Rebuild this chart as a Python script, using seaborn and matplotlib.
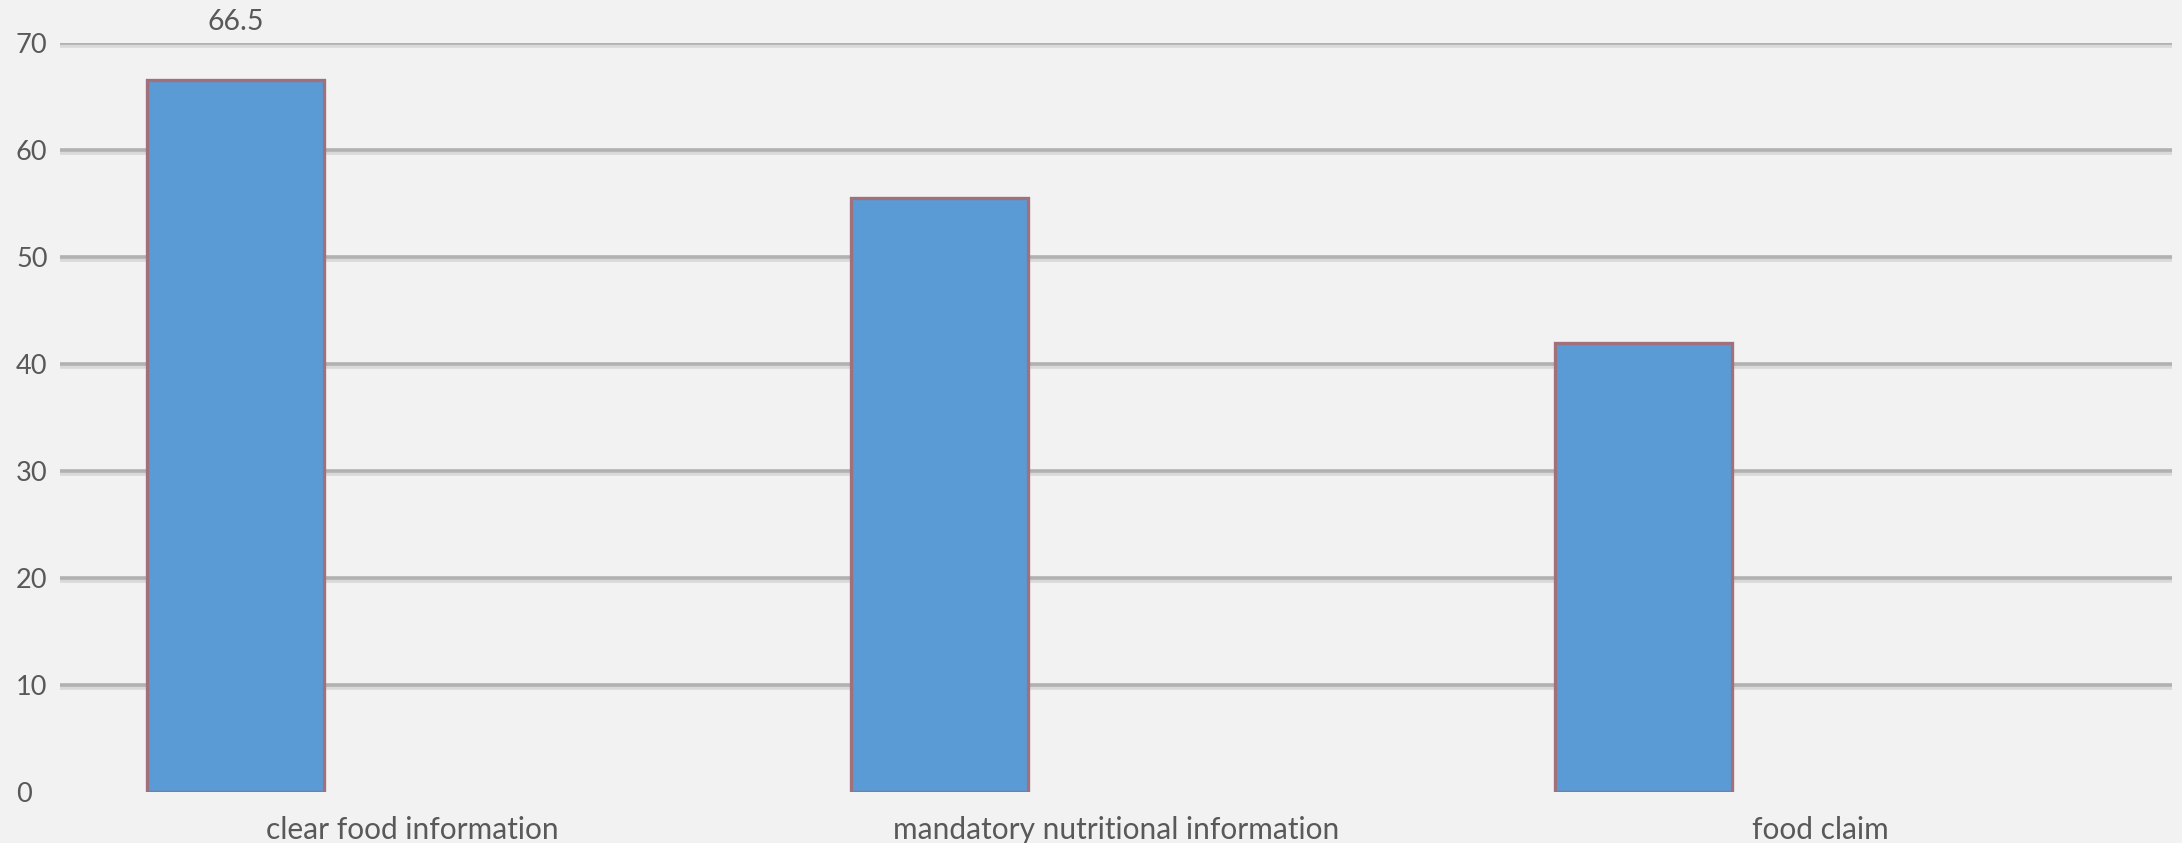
import matplotlib
matplotlib.use("Agg")
import matplotlib.pyplot as plt
import matplotlib.patheffects as pe
import pandas as pd
import seaborn as sns

# Survey results by label element
categories = ["clear food information", "mandatory nutritional information", "food claim"]
values = [66.5, 55.5, 42.0]
series_levels = ["Series1", "Series2", "Series3"]  # only the first series carries values
labelled_value = "66.5"

y_ticks = [0, 10, 20, 30, 40, 50, 60, 70]

BG = "#F2F2F2"
BAR = "#5B9BD5"
EDGE = "#A0707D"
GRID = "#B1B1B1"
TEXT = "#595959"

sns.set_theme(style="white")
plt.rcParams["font.family"] = ["Lato", "DejaVu Sans"]

df = pd.DataFrame({
    "category": categories,
    "value": values,
    "series": [series_levels[0]] * len(categories),
})

fig = plt.figure(figsize=(21.82, 8.43), dpi=100, facecolor=BG)
ax = fig.add_axes([60 / 2182, 51 / 843, 2112 / 2182, 749 / 843])
ax.set_facecolor(BG)

sns.barplot(
    data=df, x="category", y="value", hue="series",
    hue_order=series_levels, order=categories,
    palette=[BAR, BAR, BAR], saturation=1, width=0.753, dodge=True,
    edgecolor=EDGE, linewidth=2.4, legend=False, ax=ax,
)

ax.set_ylim(0, 70)
ax.set_xlim(-0.5, len(categories) - 0.5)
ax.set_yticks(y_ticks)
ax.set_yticklabels([str(t) for t in y_ticks])
ax.set_xlabel("")
ax.set_ylabel("")

for s in ax.spines.values():
    s.set_visible(False)

ax.set_axisbelow(True)
ax.yaxis.grid(True, color=GRID, linewidth=2.6)
ax.xaxis.grid(False)
for i, gl in enumerate(ax.yaxis.get_gridlines()):
    gl.set_path_effects([
        pe.SimpleLineShadow(offset=(0, -1.8), shadow_color="#D9D9D9", alpha=1.0),
        pe.Normal(),
    ])
    if i == 0:
        gl.set_visible(False)

ax.tick_params(axis="y", length=0, pad=31.7, labelsize=19.5, labelcolor=TEXT)
for lbl in ax.get_yticklabels():
    lbl.set_horizontalalignment("left")
ax.tick_params(axis="x", length=0, pad=17, labelsize=21.5, labelcolor=TEXT)

# value label above the first bar
first = ax.containers[0]
ax.bar_label(first, labels=[labelled_value] + [""] * (len(first) - 1),
             padding=33, fontsize=20.5, color=TEXT, clip_on=False)

fig.savefig("out.png", dpi=100, facecolor=BG)
